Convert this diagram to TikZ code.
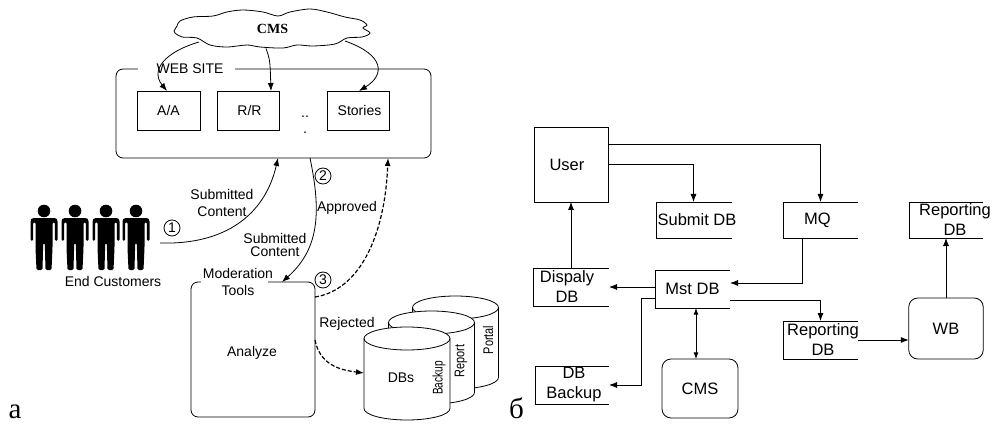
\documentclass[tikz,border=0pt]{standalone}
\usepackage{fontspec}
\setmainfont{Liberation Sans}
\newfontfamily\timesface{Liberation Serif}
\usetikzlibrary{arrows.meta}
\def\openbox(#1){\draw (#1.north east) -- (#1.north west) -- (#1.south west) -- (#1.south east);}
\def\drumbox(#1){\draw[fill=white] ([yshift=-11.5]#1.north west) arc (180:0:43pt and 11.5pt) -- ([yshift=11.5]#1.south east) arc (0:-180:43pt and 11.5pt) -- cycle;
	\draw ([yshift=-11.5]#1.north west) arc (180:360:43pt and 11.5pt);}
\tikzset{
	lbl/.style={font=\fontsize{14}{17}\selectfont, inner sep=0, align=center},
	rlbl/.style={font=\fontsize{16.5}{20}\selectfont, inner sep=0, align=center},
	captxt/.style={font=\timesface\fontsize{29}{29}\selectfont, inner sep=0, anchor=base},
	box/.style={draw, lbl, outer sep=0},
	store/.style={rlbl, outer sep=0},
	rbox/.style={draw, rlbl, outer sep=0, rounded corners=9},
	frame/.style={draw, outer sep=0, rounded corners=7},
	gap/.style={fill=white, inner sep=0, minimum height=4},
	num/.style={draw, circle, lbl, minimum size=16},
	drum/.style={inner sep=0, outer sep=0, minimum width=86, minimum height=93},
	conn/.style={-{Latex[length=8,width=6]}},
	dconn/.style={conn, line width=1.2, dash pattern=on 4 off 2},
	every path/.style={line width=.8}
}

\begin{document}
\begin{tikzpicture}[x=1pt, y=-1pt]
	\useasboundingbox (0,0) rectangle (994,425);
	%%%%% LEFT %%%%%
	\draw plot[smooth cycle, tension=.55] coordinates {(174,31) (177,26) (180,21) (193,17) (213,16) (227,12) (243,10) (263,12) (278,16) (290,12) (310,9) (327,12) (345,17) (360,20) (367,25) (363,28) (370,33) (362,37) (347,38) (335,44) (313,46) (297,45) (283,48) (260,47) (247,45) (227,47) (210,45) (197,38) (182,37) (175,33)};
	\node[inner sep=0, minimum width=197, minimum height=38, font=\timesface\bfseries\fontsize{14}{14}\selectfont] (cms) at (272.5,29) {\raisebox{1pt}{CMS}};
	\coordinate (cmsa) at (199,42);
	\coordinate (cmsc) at (345,41);

	\node[frame, minimum width=315, minimum height=89] (web) at (273.5,113.5) {};
	\node[gap, minimum width=97] (webgap) at (186.5,69) {};
	\node[lbl] (webt) at (190,69) {WEB SITE};
	\node[box, minimum width=63, minimum height=39] (aa) at (168.5,110.5) {A/A};
	\node[box, minimum width=62, minimum height=39] (rr) at (248,110.5) {\hspace*{3pt}R/R};
	\node[box, minimum width=62, minimum height=39] (st) at (358,110.5) {\hspace*{3pt}Stories};
	\node[lbl, anchor=base] (dots) at (305,118) {..};
	\node[lbl, anchor=base] (dot) at (305,134) {.};

	\draw[conn] (cmsa) .. controls (165,52) and (150,70) .. (aa.north -| 167,0);
	\draw[conn] (cms.south -| 266,0) .. controls (270,60) .. (rr.north -| 271,0);
	\draw[conn] (cmsc) .. controls (385,55) and (385,75) .. (st.north -| 359,0);

	\foreach \px in {44,75,106,136} {
		\begin{scope}[shift={(\px,218)}]
			\fill (0,-7) circle (6.3);
			\fill[rounded corners=1.5] (-12,0) -- (12,0) -- (13.5,2) -- (13.5,23) -- (10.8,23) -- (10.8,4) -- (8.5,4) -- (8.5,30) -- (7.5,52) -- (1.5,52) -- (.8,25) -- (-.8,25) -- (-1.5,52) -- (-7.5,52) -- (-8.5,30) -- (-8.5,4) -- (-10.8,4) -- (-10.8,23) -- (-13.5,23) -- (-13.5,2) -- cycle;
		\end{scope}
	}
	\node[lbl] (cust) at (113,281) {End Customers};
	\coordinate (custr) at (160,243);
	\node[num] (one) at (172,228) {1};
	\node[lbl] (subl) at (222,203) {Submitted\\Content};
	\draw[conn] (custr) .. controls (225,245) and (265,215) .. (web.south -| 278,0);

	\node[frame, minimum width=124, minimum height=135] (mod) at (253,349.5) {};
	\node[gap, minimum width=67] (modgap) at (234.5,282) {};
	\node[lbl] (modt) at (238,281.5) {Moderation\\Tools};
	\node[lbl] (ana) at (252,353) {Analyze};
	\node[num] (two) at (323,176) {2};
	\node[num] (three) at (323,280) {3};
	\node[lbl] (appr) at (347,208) {Approved};
	\node[lbl, font=\fontsize{14}{13}\selectfont] (subm) at (275,245) {Submitted\\Content};
	\node[lbl] (rej) at (347,324) {Rejected};
	\draw[conn] (web.south -| 310,0) .. controls (322,215) and (318,250) .. (mod.north -| 282,0);
	\draw[dconn] (mod.east |- 0,297) .. controls (360,290) and (385,235) .. (web.south -| 388,0);

	\node[drum] (dbp) at (455.5,342.5) {};
	\node[drum] (dbr) at (431.5,357.5) {};
	\node[drum] (dbs) at (407,373.5) {};
	\drumbox(dbp)
	\drumbox(dbr)
	\drumbox(dbs)
	\node[lbl] (dbst) at (401,378) {DBs};
	\node[lbl, rotate=90] (bak) at (439,378) {\scalebox{.72}[1]{Backup}};
	\node[lbl, rotate=90] (rep) at (461,361) {\scalebox{.78}[1]{Report}};
	\node[lbl, rotate=90] (por) at (488,340) {\scalebox{.78}[1]{Portal}};
	\draw[dconn] (mod.east |- 0,340) .. controls (320,365) and (340,370) .. (dbs.west |- 0,373);

	\node[captxt] (capa) at (15,418.5) {а};

	%%%%% RIGHT %%%%%
	\node[draw, rlbl, outer sep=0, minimum width=74, minimum height=75, label={[rlbl, xshift=-4]center:User}] (usr) at (571,164.5) {};
	\node[store, minimum width=76, minimum height=36, label={[rlbl, xshift=3]center:Submit DB}] (sub) at (694,220) {};
	\node[store, minimum width=75, minimum height=36, label={[rlbl, xshift=-3]center:MQ}] (mq) at (820.5,220) {};
	\node[store, minimum width=74, minimum height=36, label={[rlbl, xshift=9]center:Reporting\\DB}] (reptop) at (946,220) {};
	\node[store, minimum width=76, minimum height=38, label={[rlbl, xshift=-4]center:Dispaly\\DB}] (dsp) at (571,287) {};
	\node[store, minimum width=75, minimum height=38, label={[rlbl]center:Mst DB}] (mst) at (692.5,289) {};
	\node[store, minimum width=75, minimum height=38, label={[rlbl, xshift=2.5]center:Reporting\\DB}] (repmid) at (820.5,340) {};
	\node[store, minimum width=74, minimum height=38, label={[rlbl, xshift=2]center:DB\\Backup}] (bkp) at (572,385) {};
	\node[rbox, minimum width=74.5, minimum height=61] (wb) at (946,328.5) {WB};
	\node[rbox, minimum width=76, minimum height=59] (rcms) at (700,388.5) {CMS};
	\foreach \n in {sub,mq,reptop,dsp,mst,repmid,bkp} \openbox(\n);

	\draw[conn] (usr.east |- 0,144) -| (mq.north);
	\draw[conn] (usr.east |- 0,164.5) -| (sub.north -| 693.5,0);
	\draw[conn] (mq.south -| 802,0) |- (mst.east |- 0,283);
	\draw[conn] (mst.west |- dsp.east) -- (dsp.east);
	\draw[conn] (dsp.north) -- (usr.south -| dsp.north);
	\draw[conn] (mst.west |- 0,298.5) -- (641,298.5) |- (bkp.east);
	\draw[Latex-Latex] (mst.south -| 696,0) -- (rcms.north -| 696,0);
	\draw[conn] (mst.east |- 0,300) -| (repmid.north);
	\draw[conn] (repmid.east) -- (wb.west |- repmid.east);
	\draw[conn] (wb.north) -- (reptop.south);

	\node[captxt] (capb) at (516.5,418.5) {б};
\end{tikzpicture}
\end{document}
